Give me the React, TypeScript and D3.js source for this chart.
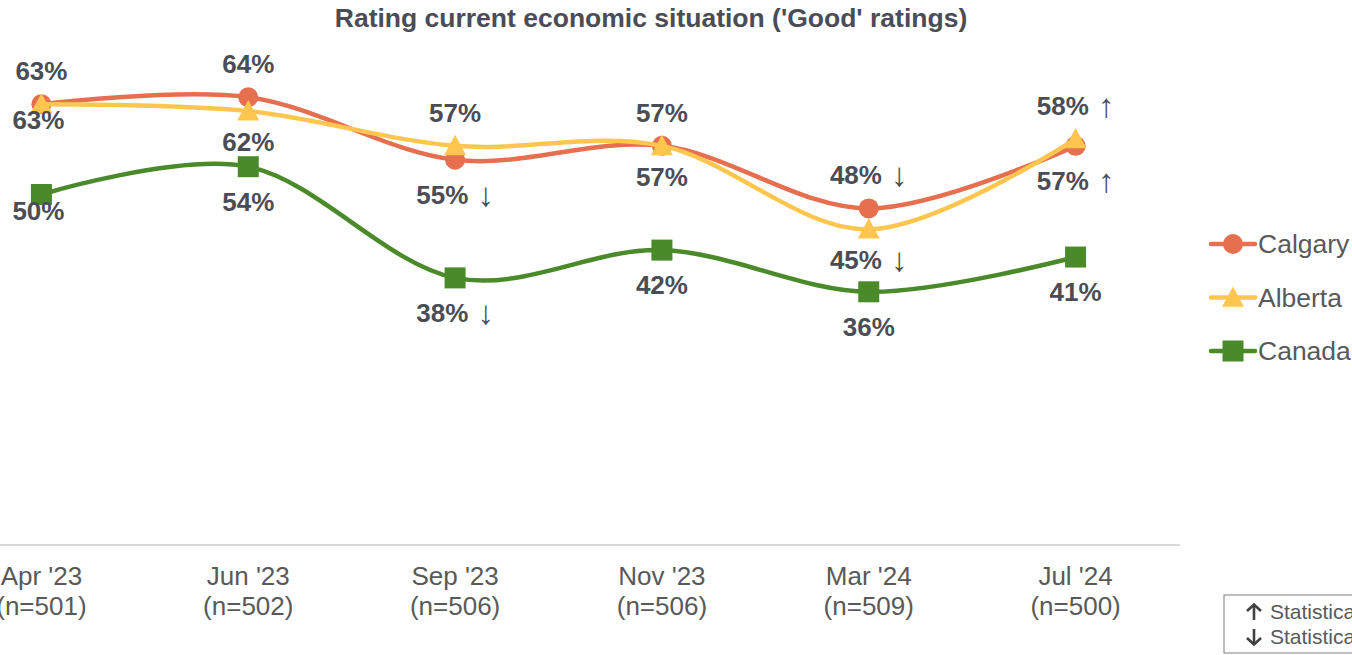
import React from "react";
import * as d3 from "d3";

const categories = ["Apr '23", "Jun '23", "Sep '23", "Nov '23", "Mar '24", "Jul '24"];
const sampleSizes = ["(n=501)", "(n=502)", "(n=506)", "(n=506)", "(n=509)", "(n=500)"];

const calgary = [63, 64, 55, 57, 48, 57];
const alberta = [63, 62, 57, 57, 45, 58];
const canada = [50, 54, 38, 42, 36, 41];

const calgarySig = ["", "", "down", "", "down", "up"];
const albertaSig = ["", "", "", "", "down", "up"];
const canadaSig = ["", "", "down", "", "", ""];

const calgaryLabelSide = ["top", "top", "bottom", "top", "top", "bottom"];
const albertaLabelSide = ["bottom", "bottom", "top", "bottom", "bottom", "top"];
const canadaLabelSide = ["bottom", "bottom", "bottom", "bottom", "bottom", "bottom"];

const seriesNames = ["Calgary", "Alberta", "Canada"];
const legendNotes = ["Statistically significantly higher than previous wave", "Statistically significantly lower than previous wave"];

const FONT = "'Liberation Sans', Arial, Helvetica, sans-serif";
const LABEL_COLOR = "#4a4d56";
const AXIS_COLOR = "#595959";

type Series = {
  name: string;
  values: number[];
  sig: string[];
  side: string[];
  color: string;
  marker: "circle" | "triangle" | "square";
};

const series: Series[] = [
  { name: seriesNames[0], values: calgary, sig: calgarySig, side: calgaryLabelSide, color: "#e66f4f", marker: "circle" },
  { name: seriesNames[1], values: alberta, sig: albertaSig, side: albertaLabelSide, color: "#ffc64f", marker: "triangle" },
  { name: seriesNames[2], values: canada, sig: canadaSig, side: canadaLabelSide, color: "#4a8a2a", marker: "square" },
];

function Marker({ type, x, y, color }: { type: string; x: number; y: number; color: string }) {
  if (type === "circle") return <circle cx={x} cy={y} r={10} fill={color} />;
  if (type === "triangle") {
    const s = 11;
    return <path d={`M${x},${y - s} L${x + s},${y + s * 0.85} L${x - s},${y + s * 0.85} Z`} fill={color} />;
  }
  return <rect x={x - 10.5} y={y - 10.5} width={21} height={21} fill={color} />;
}

function HeavyArrow({ x, y, up }: { x: number; y: number; up: boolean }) {
  // y = vertical centre
  const h = 8;
  const tip = up ? y - h : y + h;
  const tail = up ? y + h : y - h;
  const d = up ? 1 : -1;
  return (
    <g stroke="#404040" strokeWidth={2.6} fill="none" strokeLinecap="butt" strokeLinejoin="miter">
      <line x1={x} x2={x} y1={tail} y2={tip + d * 1.5} />
      <polyline points={`${x - 7},${tip + d * 7} ${x},${tip + d * 0.5} ${x + 7},${tip + d * 7}`} />
    </g>
  );
}

export default function App() {
  const W = 1352;
  const H = 655;
  const x = d3.scalePoint<string>().domain(categories).range([-62, 1179]).padding(0.5);
  const y = d3.scaleLinear().domain([0, 100]).range([542, -153]);
  const line = d3
    .line<number>()
    .x((_, i) => x(categories[i]) as number)
    .y((v) => y(v))
    .curve(d3.curveCardinal.tension(0));

  const arrow = (s: string) => (s === "up" ? "\u2191" : s === "down" ? "\u2193" : "");

  return (
    <svg
      width={W}
      height={H}
      style={{ position: "absolute", left: 0, top: 0, background: "#fff" }}
      fontFamily={FONT}
    >
      <rect x={0} y={0} width={W} height={H} fill="#fff" />
      <text x={651} y={27} textAnchor="middle" fontSize={26.5} fontWeight="bold" fill="#4a4d56">
        Rating current economic situation ('Good' ratings)
      </text>

      {/* axis line */}
      <line x1={0} x2={1180} y1={545} y2={545} stroke="#d9d9d9" strokeWidth={2} />
      {categories.map((c, i) => (
        <g key={c}>
          <text x={x(c) as number} y={585} textAnchor="middle" fontSize={26} fill={AXIS_COLOR}>
            {c}
          </text>
          <text x={x(c) as number} y={615} textAnchor="middle" fontSize={26} fill={AXIS_COLOR}>
            {sampleSizes[i]}
          </text>
        </g>
      ))}

      {series.map((s) => (
        <g key={s.name}>
          <path d={line(s.values) || ""} fill="none" stroke={s.color} strokeWidth={4.5} strokeLinecap="round" />
          {s.values.map((v, i) => (
            <Marker key={i} type={s.marker} x={x(categories[i]) as number} y={y(v)} color={s.color} />
          ))}
        </g>
      ))}

      {series.map((s) =>
        s.values.map((v, i) => {
          const px = x(categories[i]) as number;
          const py = y(v);
          const below = s.side[i] === "bottom";
          const belowOff = i === 0 ? 25 : s.marker === "triangle" ? 40 : 44;
          const dy = below ? belowOff : -24;
          const a = arrow(s.sig[i]);
          return (
            <text
              key={s.name + i}
              x={i === 0 && below ? px - 3 : px}
              y={py + dy}
              textAnchor="middle"
              fontSize={26}
              fontWeight="bold"
              fill={LABEL_COLOR}
            >
              {`${v}%`}
              {a ? (
                <tspan fontWeight="normal" fontSize={33} dy={2}>{` ${a}`}</tspan>
              ) : null}
            </text>
          );
        })
      )}

      {/* legend */}
      {series.map((s, i) => {
        const ly = 244 + i * 53.5;
        return (
          <g key={"lg" + s.name}>
            <line x1={1211} x2={1255} y1={ly} y2={ly} stroke={s.color} strokeWidth={4.5} strokeLinecap="round" />
            <Marker type={s.marker} x={1233} y={ly} color={s.color} />
            <text x={1258} y={ly + 9} fontSize={26.5} fill={AXIS_COLOR}>
              {s.name}
            </text>
          </g>
        );
      })}

      {/* significance note box */}
      <rect x={1224} y={595} width={200} height={58} fill="#fff" stroke="#7f7f7f" strokeWidth={1} />
      <HeavyArrow x={1254} y={612} up={true} />
      <HeavyArrow x={1254} y={637} up={false} />
      <text x={1270} y={619} fontSize={21} fill={AXIS_COLOR}>
        {legendNotes[0]}
      </text>
      <text x={1270} y={644} fontSize={21} fill={AXIS_COLOR}>
        {legendNotes[1]}
      </text>
    </svg>
  );
}
